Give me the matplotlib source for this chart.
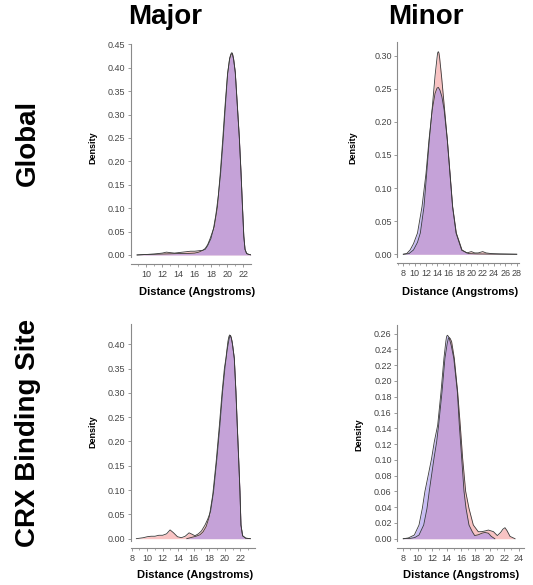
import numpy as np
import matplotlib
matplotlib.use("Agg")
import matplotlib.pyplot as plt
from matplotlib.ticker import MultipleLocator

plt.rcParams['font.family'] = ['Liberation Sans', 'DejaVu Sans']

# ---- data (distance in Angstroms, density) ----
# Global / Major
glob_maj_red_x = [8.9, 10, 11, 12, 12.5, 13, 13.5, 14, 14.5, 15, 15.5, 16, 16.5, 17.0, 17.3, 17.6, 18.0, 18.3,
                  18.6, 18.9, 19.2, 19.5, 19.75, 20.05, 20.3, 20.45, 20.55, 20.65, 20.8, 21.0, 21.25, 21.5,
                  21.7, 21.88, 22.05, 22.2, 22.4, 22.7, 23.0]
glob_maj_red_y = [0, 0.001, 0.002, 0.004, 0.006, 0.005, 0.004, 0.005, 0.006, 0.007, 0.008, 0.008, 0.009, 0.010,
                  0.012, 0.02, 0.035, 0.055, 0.085, 0.125, 0.175, 0.245, 0.31, 0.385, 0.42, 0.429, 0.432,
                  0.431, 0.418, 0.39, 0.32, 0.25, 0.178, 0.105, 0.04, 0.012, 0.003, 0.001, 0]
glob_maj_blue_x = [8.9, 10, 12, 14, 15, 16, 16.5, 17.0, 17.3, 17.6, 17.9, 18.1, 18.4, 18.8, 19.15, 19.45, 19.73,
                   20.05, 20.3, 20.45, 20.55, 20.65, 20.8, 21.0, 21.25, 21.5, 21.7, 21.88, 22.05, 22.2, 22.4,
                   22.7, 23.0]
glob_maj_blue_y = [0, 0.001, 0.002, 0.003, 0.003, 0.004, 0.006, 0.01, 0.014, 0.022, 0.035, 0.045, 0.06, 0.103,
                   0.175, 0.246, 0.317, 0.388, 0.418, 0.427, 0.43, 0.429, 0.417, 0.39, 0.32, 0.25, 0.178,
                   0.105, 0.04, 0.012, 0.003, 0.001, 0]

# Global / Minor
glob_min_red_x = [8, 9, 9.8, 10.5, 11.0, 11.65, 12.12, 12.59, 13.12, 13.6, 13.95, 14.05, 14.17, 14.28, 14.4,
                  14.75, 15.23, 15.76, 16.24, 16.7, 17.35, 18.35, 19.2, 20.0, 20.6, 21.2, 22.0, 22.6, 23.5,
                  25, 28]
glob_min_red_y = [0, 0.001, 0.0065, 0.018, 0.032, 0.072, 0.122, 0.173, 0.223, 0.27, 0.297, 0.304, 0.306,
                  0.304, 0.297, 0.268, 0.223, 0.173, 0.122, 0.072, 0.032, 0.0065, 0.002, 0.004, 0.002, 0.002,
                  0.004, 0.002, 0.001, 0.0005, 0]
glob_min_blue_x = [8, 8.6, 9.2, 9.8, 10.5, 11.3, 12.0, 12.53, 13.1, 13.6, 13.95, 14.17, 14.45, 14.8, 15.2,
                   15.75, 16.22, 16.68, 17.3, 18.3, 19.5, 21, 24, 28]
glob_min_blue_y = [0, 0.001, 0.0065, 0.016, 0.032, 0.072, 0.122, 0.173, 0.218, 0.243, 0.251, 0.252, 0.248,
                   0.238, 0.218, 0.173, 0.122, 0.072, 0.032, 0.006, 0.001, 0.0005, 0.0002, 0]

# CRX binding site / Major
crx_maj_red_x = [8.6, 9.5, 10, 10.5, 11, 11.5, 12, 12.5, 12.95, 13.4, 13.9, 14.4, 14.9, 15.4, 15.8, 16.15,
                 16.6, 17.0, 17.45, 17.8, 18.17, 18.56, 18.99, 19.38, 19.72, 20.05, 20.32, 20.55, 20.65,
                 20.75, 20.85, 20.95, 21.23, 21.44, 21.61, 21.79, 21.96, 22.09, 22.3, 22.7, 23.3]
crx_maj_red_y = [0, 0.002, 0.004, 0.005, 0.005, 0.007, 0.007, 0.01, 0.018, 0.012, 0.004, 0.002, 0.005, 0.012,
                 0.009, 0.006, 0.01, 0.016, 0.028, 0.04, 0.056, 0.097, 0.165, 0.234, 0.302, 0.355, 0.389, 0.41,
                 0.417, 0.418, 0.413, 0.405, 0.371, 0.302, 0.234, 0.165, 0.097, 0.028, 0.006, 0.001, 0]
crx_maj_blue_x = [15.1, 15.8, 16.3, 16.8, 17.2, 17.6, 18.0, 18.45, 18.9, 19.3, 19.65, 19.95, 20.15, 20.4,
                  20.52, 20.62, 20.72, 20.85, 21.0, 21.23, 21.44, 21.61, 21.79, 21.96, 22.09, 22.3, 22.7, 23.3]
crx_maj_blue_y = [0, 0.003, 0.005, 0.008, 0.014, 0.025, 0.045, 0.09, 0.16, 0.232, 0.3, 0.35, 0.371, 0.405,
                  0.415, 0.419, 0.418, 0.412, 0.4, 0.371, 0.302, 0.234, 0.165, 0.097, 0.028, 0.006, 0.001, 0]

# CRX binding site / Minor
crx_min_red_x = [8, 9, 9.6, 10.18, 10.83, 11.29, 11.6, 11.93, 12.26, 12.63, 12.9, 13.37, 13.78, 14.1, 14.25,
                 14.38, 14.5, 14.7, 15.07, 15.54, 15.9, 16.23, 16.65, 17.11, 17.71, 18.4, 18.9, 19.4, 19.8,
                 20.5, 21.04, 21.5, 21.8, 22.1, 22.4, 22.8, 23.5]
crx_min_red_y = [0, 0.0005, 0.0015, 0.0047, 0.0174, 0.0385, 0.06, 0.081, 0.102, 0.123, 0.144, 0.186, 0.229,
                 0.248, 0.254, 0.255, 0.254, 0.25, 0.229, 0.186, 0.144, 0.102, 0.06, 0.0385, 0.0174, 0.0089,
                 0.009, 0.01, 0.011, 0.009, 0.004, 0.008, 0.012, 0.014, 0.01, 0.003, 0]
crx_min_blue_x = [8, 8.7, 9.53, 10.18, 10.64, 11.0, 11.47, 11.93, 12.3, 12.77, 13.23, 13.64, 13.9, 14.0, 14.1,
                  14.22, 14.35, 14.65, 15.0, 15.5, 15.77, 16.1, 16.42, 16.7, 17.11, 17.57, 17.9, 18.4, 18.9,
                  19.33, 19.8, 20.2, 20.7]
crx_min_blue_y = [0, 0.001, 0.0047, 0.0174, 0.0385, 0.06, 0.081, 0.102, 0.123, 0.144, 0.186, 0.229, 0.25,
                  0.256, 0.258, 0.257, 0.255, 0.245, 0.229, 0.186, 0.144, 0.102, 0.06, 0.0385, 0.0174, 0.0089,
                  0.004, 0.005, 0.007, 0.008, 0.007, 0.003, 0]

col_titles = ["Major", "Minor"]
row_titles = ["Global", "CRX Binding Site"]

RED = "#f49292"
BLUE = "#9b87eb"
W, H = 533, 585

fig = plt.figure(figsize=(W / 100, H / 100), dpi=100)


def px_axes(left, right, top, bottom):
    return fig.add_axes([left / W, 1 - bottom / H, (right - left) / W, (bottom - top) / H])


def fpos(x, y):
    return x / W, 1 - y / H


# pixel box, limits, y tick step, x tick range, bottom spine offset, label centres (px)
panels = [
    dict(box=(130.6, 250.7, 44.3, 257.3), xlim=(8.1, 22.9), ylim=(-0.005, 0.45), ystep=0.05,
         xt=(10, 22), off=4.8, yl=(97, 148), xl=(197, 287),
         red=(glob_maj_red_x, glob_maj_red_y), blue=(glob_maj_blue_x, glob_maj_blue_y)),
    dict(box=(397.3, 519.0, 41.7, 256.9), xlim=(6.94, 28.4), ylim=(-0.004, 0.321), ystep=0.05,
         xt=(8, 28), off=4.6, yl=(357, 148), xl=(460, 287),
         red=(glob_min_red_x, glob_min_red_y), blue=(glob_min_blue_x, glob_min_blue_y)),
    dict(box=(131.0, 255.0, 324.3, 541.1), xlim=(7.91, 23.9), ylim=(-0.005, 0.441), ystep=0.05,
         xt=(8, 22), off=5.0, yl=(97, 432), xl=(195, 570),
         red=(crx_maj_red_x, crx_maj_red_y), blue=(crx_maj_blue_x, crx_maj_blue_y)),
    dict(box=(397.3, 524.0, 325.0, 541.1), xlim=(7.17, 24.74), ylim=(-0.003, 0.271), ystep=0.02,
         xt=(8, 24), off=5.2, yl=(363, 435), xl=(461, 570),
         red=(crx_min_red_x, crx_min_red_y), blue=(crx_min_blue_x, crx_min_blue_y)),
]

for p in panels:
    ax = px_axes(*p["box"])
    for (xs, ys), c in ((p["red"], RED), (p["blue"], BLUE)):
        ax.fill_between(xs, ys, 0, color=c, alpha=0.55, lw=0)
        ax.plot(xs, ys, color="#3a3a3a", lw=0.6)
    ax.set_xlim(*p["xlim"])
    ax.set_ylim(*p["ylim"])
    ax.set_xticks(np.arange(p["xt"][0], p["xt"][1] + 1, 2))
    ax.xaxis.set_minor_locator(MultipleLocator(1))
    yt = np.arange(0, p["ylim"][1] + 1e-9, p["ystep"])
    ax.set_yticks(yt)
    ax.set_yticklabels([f"{v:.2f}" for v in yt])
    for s in ("top", "right"):
        ax.spines[s].set_visible(False)
    ax.spines["bottom"].set_position(("outward", p["off"]))
    for s in ("left", "bottom"):
        ax.spines[s].set_color("#8a8a8a")
        ax.spines[s].set_linewidth(0.8)
    ax.tick_params(which="major", length=2.5, width=0.6, color="#8a8a8a", labelsize=6.5,
                   labelcolor="#444444", pad=1.5)
    ax.tick_params(which="minor", length=1.5, width=0.5, color="#8a8a8a")
    ax.set_ylabel("Density", fontsize=6.5, fontweight="bold")
    ax.set_xlabel("Distance (Angstroms)", fontsize=8, fontweight="bold")
    ax.yaxis.set_label_coords(*fpos(*p["yl"]), transform=fig.transFigure)
    ax.xaxis.set_label_coords(*fpos(*p["xl"]), transform=fig.transFigure)
    ax.patch.set_visible(False)

fig.text(*fpos(165, 17), col_titles[0], fontsize=20, fontweight="bold", ha="center", va="center")
fig.text(*fpos(426, 17), col_titles[1], fontsize=20, fontweight="bold", ha="center", va="center")
fig.text(*fpos(28, 143), row_titles[0], fontsize=20, fontweight="bold", rotation=90, ha="center", va="center")
fig.text(*fpos(28, 433), row_titles[1], fontsize=20, fontweight="bold", rotation=90, ha="center", va="center")

fig.savefig("out.png", dpi=100)
